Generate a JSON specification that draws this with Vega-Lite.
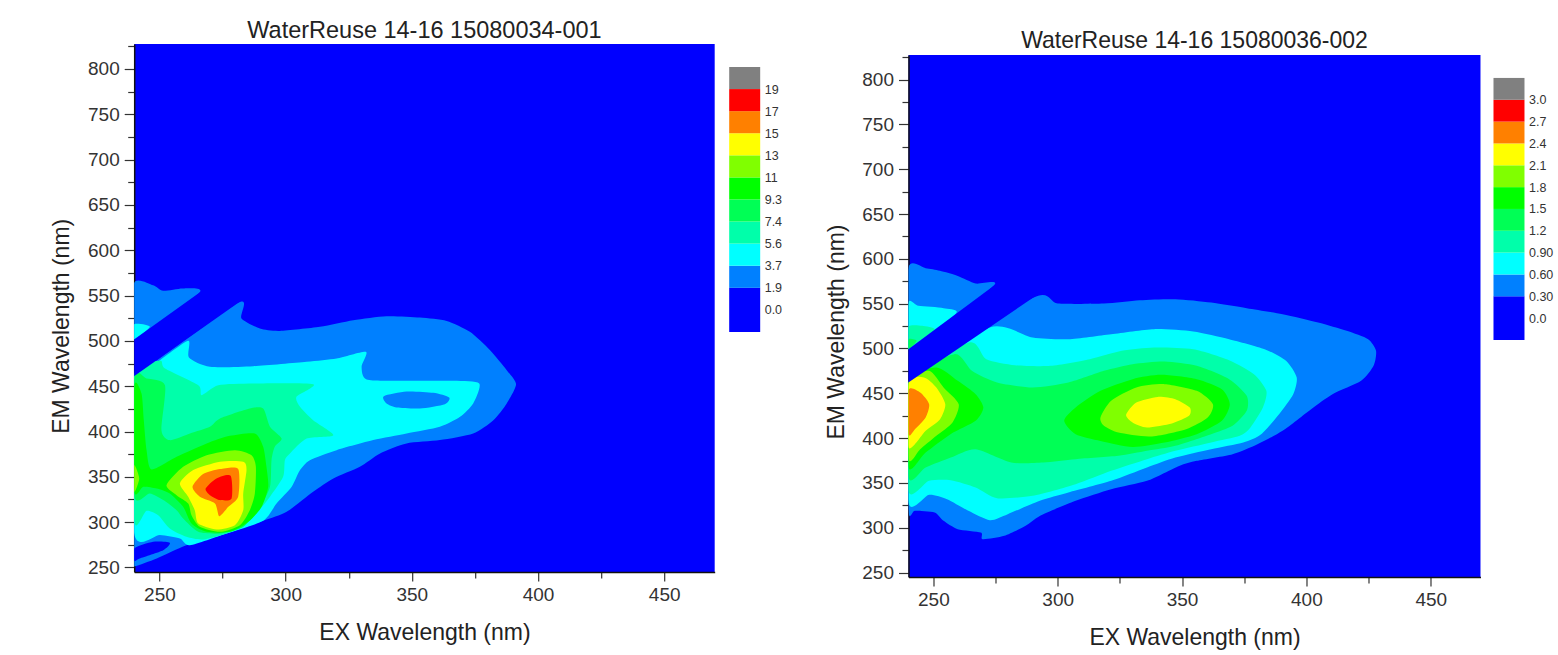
{
"$schema":"https://vega.github.io/schema/vega-lite/v6.json",
"background":"white",
"padding":{"left":50.2,"top":18,"right":5,"bottom":5},
"bounds":"flush",
"spacing":774.3,
"config":{"view":{"stroke":null},"font":"Liberation Sans",
"title":{"font":"Liberation Sans","fontSize":23.5,"fontWeight":"normal","color":"#222222","offset":-5},
"axis":{"grid":false,"labelFont":"Liberation Sans","titleFont":"Liberation Sans","titleFontWeight":"normal","labelColor":"#333333","titleColor":"#222222","labelFontSize":19,"titleFontSize":23,"domainColor":"#111111","domainWidth":1.5,"tickColor":"#333333","tickWidth":1.2,"labelOverlap":false,"labelFlush":false}},
"datasets":{
"bar1":[{"level":0,"lo":0,"hi":2},{"level":1,"lo":2,"hi":3},{"level":2,"lo":3,"hi":4},{"level":3,"lo":4,"hi":5},{"level":4,"lo":5,"hi":6},{"level":5,"lo":6,"hi":7},{"level":6,"lo":7,"hi":8},{"level":7,"lo":8,"hi":9},{"level":8,"lo":9,"hi":10},{"level":9,"lo":10,"hi":11},{"level":10,"lo":11,"hi":12}],
"stripe1":[{"id":"s1","level":0,"i":0,"ex":225,"em":431.5},{"id":"s1","level":0,"i":1,"ex":300,"em":579},{"id":"s1","level":0,"i":2,"ex":300,"em":621.3},{"id":"s1","level":0,"i":3,"ex":225,"em":471.6}],
"stripe2":[{"id":"s2","level":0,"i":0,"ex":225,"em":433.7},{"id":"s2","level":0,"i":1,"ex":310,"em":594.2},{"id":"s2","level":0,"i":2,"ex":310,"em":643.9},{"id":"s2","level":0,"i":3,"ex":225,"em":468.2}],
"left":[
{"id":"a1","level":1,"i":0,"ex":240,"em":564},{"id":"a1","level":1,"i":1,"ex":247.5,"em":561.4},{"id":"a1","level":1,"i":2,"ex":251.5,"em":555.2},{"id":"a1","level":1,"i":3,"ex":259.4,"em":557.8},{"id":"a1","level":1,"i":4,"ex":265.8,"em":553},{"id":"a1","level":1,"i":5,"ex":240,"em":501.5},
{"id":"a2","level":2,"i":0,"ex":240,"em":518.4},{"id":"a2","level":2,"i":1,"ex":246.2,"em":515.5},{"id":"a2","level":2,"i":2,"ex":240,"em":501.5},
{"id":"a3","level":1,"i":0,"ex":240,"em":461},{"id":"a3","level":1,"i":1,"ex":281.2,"em":542},{"id":"a3","level":1,"i":2,"ex":282.5,"em":524.7},{"id":"a3","level":1,"i":3,"ex":289.8,"em":513.6},{"id":"a3","level":1,"i":4,"ex":297.7,"em":511},{"id":"a3","level":1,"i":5,"ex":313.6,"em":515.5},{"id":"a3","level":1,"i":6,"ex":326.8,"em":522.8},{"id":"a3","level":1,"i":7,"ex":340,"em":527.2},{"id":"a3","level":1,"i":8,"ex":353.2,"em":525.8},{"id":"a3","level":1,"i":9,"ex":363.8,"em":522},{"id":"a3","level":1,"i":10,"ex":373,"em":510},{"id":"a3","level":1,"i":11,"ex":381,"em":489.7},{"id":"a3","level":1,"i":12,"ex":387.6,"em":467.7},{"id":"a3","level":1,"i":13,"ex":391.3,"em":452},{"id":"a3","level":1,"i":14,"ex":387.6,"em":431},{"id":"a3","level":1,"i":15,"ex":382.3,"em":412.5},{"id":"a3","level":1,"i":16,"ex":374.3,"em":397.8},{"id":"a3","level":1,"i":17,"ex":361.1,"em":390.5},{"id":"a3","level":1,"i":18,"ex":347.9,"em":386.8},{"id":"a3","level":1,"i":19,"ex":337.4,"em":375.8},{"id":"a3","level":1,"i":20,"ex":329.4,"em":361},{"id":"a3","level":1,"i":21,"ex":318.9,"em":348.2},{"id":"a3","level":1,"i":22,"ex":310.9,"em":333.5},{"id":"a3","level":1,"i":23,"ex":300.4,"em":311.4},{"id":"a3","level":1,"i":24,"ex":291.1,"em":301.5},{"id":"a3","level":1,"i":25,"ex":276.6,"em":287.5},{"id":"a3","level":1,"i":26,"ex":260.7,"em":274.6},{"id":"a3","level":1,"i":27,"ex":248.9,"em":260},{"id":"a3","level":1,"i":28,"ex":240,"em":251},{"id":"a3","level":1,"i":29,"ex":235,"em":249},{"id":"a3","level":1,"i":30,"ex":235,"em":461},
{"id":"a4","level":2,"i":0,"ex":240,"em":461},{"id":"a4","level":2,"i":1,"ex":250.2,"em":478.7},{"id":"a4","level":2,"i":2,"ex":261.4,"em":500},{"id":"a4","level":2,"i":3,"ex":261.7,"em":481.7},{"id":"a4","level":2,"i":4,"ex":270,"em":471.4},{"id":"a4","level":2,"i":5,"ex":287.2,"em":472},{"id":"a4","level":2,"i":6,"ex":308.3,"em":476.9},{"id":"a4","level":2,"i":7,"ex":320.2,"em":480.5},{"id":"a4","level":2,"i":8,"ex":331.8,"em":487.9},{"id":"a4","level":2,"i":9,"ex":330.1,"em":471.4},{"id":"a4","level":2,"i":10,"ex":332.1,"em":457.4},{"id":"a4","level":2,"i":11,"ex":346.6,"em":455.9},{"id":"a4","level":2,"i":12,"ex":366.4,"em":455.9},{"id":"a4","level":2,"i":13,"ex":376.7,"em":453},{"id":"a4","level":2,"i":14,"ex":374.3,"em":430.9},{"id":"a4","level":2,"i":15,"ex":369.1,"em":416.2},{"id":"a4","level":2,"i":16,"ex":361.1,"em":405.2},{"id":"a4","level":2,"i":17,"ex":347.9,"em":397.8},{"id":"a4","level":2,"i":18,"ex":334.7,"em":390.5},{"id":"a4","level":2,"i":19,"ex":320.2,"em":379.4},{"id":"a4","level":2,"i":20,"ex":309.6,"em":368.4},{"id":"a4","level":2,"i":21,"ex":305.7,"em":357.4},{"id":"a4","level":2,"i":22,"ex":302.4,"em":339},{"id":"a4","level":2,"i":23,"ex":296.4,"em":320.6},{"id":"a4","level":2,"i":24,"ex":291.1,"em":301.5},{"id":"a4","level":2,"i":25,"ex":276.6,"em":287.5},{"id":"a4","level":2,"i":26,"ex":262.1,"em":274.6},{"id":"a4","level":2,"i":27,"ex":258.1,"em":282},{"id":"a4","level":2,"i":28,"ex":250.2,"em":285.7},{"id":"a4","level":2,"i":29,"ex":240,"em":287.5},
{"id":"a5","level":1,"i":0,"ex":338.9,"em":439},{"id":"a5","level":1,"i":1,"ex":347.9,"em":444.1},{"id":"a5","level":1,"i":2,"ex":358.5,"em":442.7},{"id":"a5","level":1,"i":3,"ex":364.8,"em":437.5},{"id":"a5","level":1,"i":4,"ex":363.1,"em":430.2},{"id":"a5","level":1,"i":5,"ex":353.2,"em":425.4},{"id":"a5","level":1,"i":6,"ex":344,"em":426.5},{"id":"a5","level":1,"i":7,"ex":340,"em":430.9},
{"id":"a6","level":3,"i":0,"ex":240,"em":461},{"id":"a6","level":3,"i":1,"ex":250.2,"em":478},{"id":"a6","level":3,"i":2,"ex":252.2,"em":469.5},{"id":"a6","level":3,"i":3,"ex":265.4,"em":451.1},{"id":"a6","level":3,"i":4,"ex":266.7,"em":440.1},{"id":"a6","level":3,"i":5,"ex":273.3,"em":451.1},{"id":"a6","level":3,"i":6,"ex":287.2,"em":453},{"id":"a6","level":3,"i":7,"ex":310.9,"em":452.2},{"id":"a6","level":3,"i":8,"ex":304.3,"em":438.3},{"id":"a6","level":3,"i":9,"ex":305.7,"em":427.2},{"id":"a6","level":3,"i":10,"ex":310.9,"em":412.5},{"id":"a6","level":3,"i":11,"ex":318.9,"em":396},{"id":"a6","level":3,"i":12,"ex":308.3,"em":392.3},{"id":"a6","level":3,"i":13,"ex":301.7,"em":375.8},{"id":"a6","level":3,"i":14,"ex":299.7,"em":368.4},{"id":"a6","level":3,"i":15,"ex":299,"em":350},{"id":"a6","level":3,"i":16,"ex":293.8,"em":328},{"id":"a6","level":3,"i":17,"ex":288.5,"em":309.6},{"id":"a6","level":3,"i":18,"ex":283.2,"em":294.9},{"id":"a6","level":3,"i":19,"ex":276.6,"em":287.5},{"id":"a6","level":3,"i":20,"ex":267.3,"em":280.9},{"id":"a6","level":3,"i":21,"ex":260.7,"em":283.8},{"id":"a6","level":3,"i":22,"ex":254.1,"em":293},{"id":"a6","level":3,"i":23,"ex":249.5,"em":307.7},{"id":"a6","level":3,"i":24,"ex":244.9,"em":312.5},{"id":"a6","level":3,"i":25,"ex":240,"em":302.2},
{"id":"a7","level":4,"i":0,"ex":240,"em":458.5},{"id":"a7","level":4,"i":1,"ex":244.9,"em":458.5},{"id":"a7","level":4,"i":2,"ex":252.2,"em":451.1},{"id":"a7","level":4,"i":3,"ex":250.8,"em":401.5},{"id":"a7","level":4,"i":4,"ex":254.1,"em":390.5},{"id":"a7","level":4,"i":5,"ex":262.1,"em":397.8},{"id":"a7","level":4,"i":6,"ex":270,"em":405.2},{"id":"a7","level":4,"i":7,"ex":274,"em":414.4},{"id":"a7","level":4,"i":8,"ex":285.8,"em":425.4},{"id":"a7","level":4,"i":9,"ex":291.1,"em":425.4},{"id":"a7","level":4,"i":10,"ex":293.8,"em":405.2},{"id":"a7","level":4,"i":11,"ex":298.4,"em":392.3},{"id":"a7","level":4,"i":12,"ex":295.7,"em":383.1},{"id":"a7","level":4,"i":13,"ex":294.4,"em":368.4},{"id":"a7","level":4,"i":14,"ex":293.8,"em":339},{"id":"a7","level":4,"i":15,"ex":289.8,"em":316.9},{"id":"a7","level":4,"i":16,"ex":283.2,"em":294.9},{"id":"a7","level":4,"i":17,"ex":274,"em":287.5},{"id":"a7","level":4,"i":18,"ex":265.4,"em":289.3},{"id":"a7","level":4,"i":19,"ex":259.4,"em":304},{"id":"a7","level":4,"i":20,"ex":256.8,"em":313.2},{"id":"a7","level":4,"i":21,"ex":251.5,"em":324.3},{"id":"a7","level":4,"i":22,"ex":246.2,"em":331.6},{"id":"a7","level":4,"i":23,"ex":240,"em":329.8},
{"id":"a8","level":5,"i":0,"ex":240,"em":449.3},{"id":"a8","level":5,"i":1,"ex":242.9,"em":441.9},{"id":"a8","level":5,"i":2,"ex":243.8,"em":412.5},{"id":"a8","level":5,"i":3,"ex":244.9,"em":379.4},{"id":"a8","level":5,"i":4,"ex":246.9,"em":358.1},{"id":"a8","level":5,"i":5,"ex":256.8,"em":372.1},{"id":"a8","level":5,"i":6,"ex":268.7,"em":386.8},{"id":"a8","level":5,"i":7,"ex":277.9,"em":395.2},{"id":"a8","level":5,"i":8,"ex":287.8,"em":397.8},{"id":"a8","level":5,"i":9,"ex":291.1,"em":383.1},{"id":"a8","level":5,"i":10,"ex":292.4,"em":361},{"id":"a8","level":5,"i":11,"ex":293.1,"em":339},{"id":"a8","level":5,"i":12,"ex":290.5,"em":316.9},{"id":"a8","level":5,"i":13,"ex":285.2,"em":300.4},{"id":"a8","level":5,"i":14,"ex":277.9,"em":289.3},{"id":"a8","level":5,"i":15,"ex":268.7,"em":289.3},{"id":"a8","level":5,"i":16,"ex":262.7,"em":298.5},{"id":"a8","level":5,"i":17,"ex":259.4,"em":316.9},{"id":"a8","level":5,"i":18,"ex":254.1,"em":331.6},{"id":"a8","level":5,"i":19,"ex":248.9,"em":337.1},{"id":"a8","level":5,"i":20,"ex":243.6,"em":339},{"id":"a8","level":5,"i":21,"ex":240,"em":335.3},
{"id":"a9","level":6,"i":0,"ex":252.8,"em":340.8},{"id":"a9","level":6,"i":1,"ex":259.4,"em":361},{"id":"a9","level":6,"i":2,"ex":268.7,"em":373.9},{"id":"a9","level":6,"i":3,"ex":279.9,"em":379.4},{"id":"a9","level":6,"i":4,"ex":286.5,"em":373.9},{"id":"a9","level":6,"i":5,"ex":288.2,"em":361},{"id":"a9","level":6,"i":6,"ex":287.8,"em":331.6},{"id":"a9","level":6,"i":7,"ex":285.8,"em":313.2},{"id":"a9","level":6,"i":8,"ex":281.9,"em":296.7},{"id":"a9","level":6,"i":9,"ex":274,"em":289.3},{"id":"a9","level":6,"i":10,"ex":266,"em":294.9},{"id":"a9","level":6,"i":11,"ex":262.7,"em":307.7},{"id":"a9","level":6,"i":12,"ex":261.4,"em":320.6},{"id":"a9","level":6,"i":13,"ex":256.8,"em":329.8},
{"id":"a10","level":6,"i":0,"ex":240,"em":362.9},{"id":"a10","level":6,"i":1,"ex":242,"em":348.2},{"id":"a10","level":6,"i":2,"ex":240,"em":333.5},
{"id":"a11","level":7,"i":0,"ex":258.1,"em":342.7},{"id":"a11","level":7,"i":1,"ex":263.4,"em":357.4},{"id":"a11","level":7,"i":2,"ex":274,"em":366.6},{"id":"a11","level":7,"i":3,"ex":283.2,"em":366.6},{"id":"a11","level":7,"i":4,"ex":284.5,"em":357.4},{"id":"a11","level":7,"i":5,"ex":283.2,"em":331.6},{"id":"a11","level":7,"i":6,"ex":283.2,"em":313.2},{"id":"a11","level":7,"i":7,"ex":279.9,"em":296.7},{"id":"a11","level":7,"i":8,"ex":272.6,"em":291.9},{"id":"a11","level":7,"i":9,"ex":265.4,"em":298.5},{"id":"a11","level":7,"i":10,"ex":264,"em":313.2},{"id":"a11","level":7,"i":11,"ex":261.4,"em":328},
{"id":"a12","level":8,"i":0,"ex":263.1,"em":339},{"id":"a12","level":8,"i":1,"ex":267.3,"em":353},{"id":"a12","level":8,"i":2,"ex":274,"em":358.5},{"id":"a12","level":8,"i":3,"ex":281.2,"em":358.5},{"id":"a12","level":8,"i":4,"ex":281.2,"em":328},{"id":"a12","level":8,"i":5,"ex":277.3,"em":316.9},{"id":"a12","level":8,"i":6,"ex":273.7,"em":306.6},{"id":"a12","level":8,"i":7,"ex":272,"em":320.6},{"id":"a12","level":8,"i":8,"ex":266,"em":328},
{"id":"a13","level":9,"i":0,"ex":268.3,"em":337.1},{"id":"a13","level":9,"i":1,"ex":272.6,"em":348.2},{"id":"a13","level":9,"i":2,"ex":278.2,"em":351.1},{"id":"a13","level":9,"i":3,"ex":278.6,"em":326.1},{"id":"a13","level":9,"i":4,"ex":274,"em":324.3},{"id":"a13","level":9,"i":5,"ex":270,"em":329.8},
{"id":"a14","level":0,"i":0,"ex":240,"em":271},{"id":"a14","level":0,"i":1,"ex":247.5,"em":278.3},{"id":"a14","level":0,"i":2,"ex":254.1,"em":277.2},{"id":"a14","level":0,"i":3,"ex":251.5,"em":269.1},{"id":"a14","level":0,"i":4,"ex":242.2,"em":260},{"id":"a14","level":0,"i":5,"ex":240,"em":257.4}
],
"bar2":[{"level":0,"lo":0,"hi":2},{"level":1,"lo":2,"hi":3},{"level":2,"lo":3,"hi":4},{"level":3,"lo":4,"hi":5},{"level":4,"lo":5,"hi":6},{"level":5,"lo":6,"hi":7},{"level":6,"lo":7,"hi":8},{"level":7,"lo":8,"hi":9},{"level":8,"lo":9,"hi":10},{"level":9,"lo":10,"hi":11},{"level":10,"lo":11,"hi":12}],
"right":[
{"id":"b1","level":1,"i":0,"ex":240,"em":590.4},{"id":"b1","level":1,"i":1,"ex":246.9,"em":589.6},{"id":"b1","level":1,"i":2,"ex":252.6,"em":586.7},{"id":"b1","level":1,"i":3,"ex":259.8,"em":581},{"id":"b1","level":1,"i":4,"ex":267,"em":572.5},{"id":"b1","level":1,"i":5,"ex":274.2,"em":569.9},{"id":"b1","level":1,"i":6,"ex":240,"em":499.2},
{"id":"b2","level":2,"i":0,"ex":240,"em":551.3},{"id":"b2","level":2,"i":1,"ex":244,"em":547.6},{"id":"b2","level":2,"i":2,"ex":254.1,"em":545},{"id":"b2","level":2,"i":3,"ex":259.1,"em":539},{"id":"b2","level":2,"i":4,"ex":240,"em":499.2},
{"id":"b3","level":3,"i":0,"ex":240,"em":524.2},{"id":"b3","level":3,"i":1,"ex":245.5,"em":525.3},{"id":"b3","level":3,"i":2,"ex":250.5,"em":520.4},{"id":"b3","level":3,"i":3,"ex":240,"em":499.2},
{"id":"b4","level":4,"i":0,"ex":240,"em":510.4},{"id":"b4","level":4,"i":1,"ex":243.3,"em":508.5},{"id":"b4","level":4,"i":2,"ex":240,"em":499.2},
{"id":"b5","level":1,"i":0,"ex":240,"em":462},{"id":"b5","level":1,"i":1,"ex":289.9,"em":556.2},{"id":"b5","level":1,"i":2,"ex":300,"em":550.2},{"id":"b5","level":1,"i":3,"ex":318.6,"em":550.2},{"id":"b5","level":1,"i":4,"ex":333,"em":553.9},{"id":"b5","level":1,"i":5,"ex":347.3,"em":555},{"id":"b5","level":1,"i":6,"ex":361.7,"em":551.3},{"id":"b5","level":1,"i":7,"ex":376,"em":545},{"id":"b5","level":1,"i":8,"ex":390.4,"em":538.3},{"id":"b5","level":1,"i":9,"ex":404.7,"em":529},{"id":"b5","level":1,"i":10,"ex":416.2,"em":519.7},{"id":"b5","level":1,"i":11,"ex":424.8,"em":510.4},{"id":"b5","level":1,"i":12,"ex":428,"em":497.4},{"id":"b5","level":1,"i":13,"ex":427,"em":480.6},{"id":"b5","level":1,"i":14,"ex":422,"em":463.9},{"id":"b5","level":1,"i":15,"ex":410.5,"em":449},{"id":"b5","level":1,"i":16,"ex":401.9,"em":432.3},{"id":"b5","level":1,"i":17,"ex":390.4,"em":408.1},{"id":"b5","level":1,"i":18,"ex":380.3,"em":393.2},{"id":"b5","level":1,"i":19,"ex":370.3,"em":382.1},{"id":"b5","level":1,"i":20,"ex":355.9,"em":374.6},{"id":"b5","level":1,"i":21,"ex":348.8,"em":369},{"id":"b5","level":1,"i":22,"ex":335.9,"em":352.3},{"id":"b5","level":1,"i":23,"ex":321.5,"em":343},{"id":"b5","level":1,"i":24,"ex":307.2,"em":330},{"id":"b5","level":1,"i":25,"ex":292.8,"em":313.2},{"id":"b5","level":1,"i":26,"ex":287.1,"em":302.1},{"id":"b5","level":1,"i":27,"ex":278.5,"em":290.9},{"id":"b5","level":1,"i":28,"ex":269.8,"em":287.2},{"id":"b5","level":1,"i":29,"ex":269.1,"em":294.6},{"id":"b5","level":1,"i":30,"ex":259.8,"em":298.4},{"id":"b5","level":1,"i":31,"ex":254.1,"em":307.7},{"id":"b5","level":1,"i":32,"ex":250.5,"em":317},{"id":"b5","level":1,"i":33,"ex":242.6,"em":318.8},{"id":"b5","level":1,"i":34,"ex":240,"em":320.7},
{"id":"b6","level":2,"i":0,"ex":272.7,"em":523.4},{"id":"b6","level":2,"i":1,"ex":289.9,"em":512.3},{"id":"b6","level":2,"i":2,"ex":304.3,"em":510.4},{"id":"b6","level":2,"i":3,"ex":321.5,"em":516},{"id":"b6","level":2,"i":4,"ex":338.7,"em":521.6},{"id":"b6","level":2,"i":5,"ex":354.5,"em":519},{"id":"b6","level":2,"i":6,"ex":368.9,"em":510.4},{"id":"b6","level":2,"i":7,"ex":383.2,"em":499.2},{"id":"b6","level":2,"i":8,"ex":391.8,"em":486.2},{"id":"b6","level":2,"i":9,"ex":396.1,"em":467.6},{"id":"b6","level":2,"i":10,"ex":394.7,"em":449},{"id":"b6","level":2,"i":11,"ex":389,"em":426.7},{"id":"b6","level":2,"i":12,"ex":381.8,"em":404.4},{"id":"b6","level":2,"i":13,"ex":374.6,"em":395.1},{"id":"b6","level":2,"i":14,"ex":361.7,"em":387.6},{"id":"b6","level":2,"i":15,"ex":347.3,"em":378.3},{"id":"b6","level":2,"i":16,"ex":335.9,"em":367.2},{"id":"b6","level":2,"i":17,"ex":321.5,"em":352.3},{"id":"b6","level":2,"i":18,"ex":304.3,"em":339.3},{"id":"b6","level":2,"i":19,"ex":292.8,"em":330},{"id":"b6","level":2,"i":20,"ex":279.9,"em":315.1},{"id":"b6","level":2,"i":21,"ex":272.7,"em":308.4},{"id":"b6","level":2,"i":22,"ex":264.1,"em":318.8},{"id":"b6","level":2,"i":23,"ex":255.5,"em":331.8},{"id":"b6","level":2,"i":24,"ex":248.3,"em":336.7},{"id":"b6","level":2,"i":25,"ex":240,"em":328.1},{"id":"b6","level":2,"i":26,"ex":240,"em":462},
{"id":"b7","level":3,"i":0,"ex":264.4,"em":506.7},{"id":"b7","level":3,"i":1,"ex":271.3,"em":488.1},{"id":"b7","level":3,"i":2,"ex":282.8,"em":481.4},{"id":"b7","level":3,"i":3,"ex":297.1,"em":480.6},{"id":"b7","level":3,"i":4,"ex":312.9,"em":488.1},{"id":"b7","level":3,"i":5,"ex":325.8,"em":497.4},{"id":"b7","level":3,"i":6,"ex":338.7,"em":501.1},{"id":"b7","level":3,"i":7,"ex":354.5,"em":499.2},{"id":"b7","level":3,"i":8,"ex":368.9,"em":487},{"id":"b7","level":3,"i":9,"ex":378.9,"em":471.3},{"id":"b7","level":3,"i":10,"ex":383.9,"em":452.7},{"id":"b7","level":3,"i":11,"ex":382.5,"em":434.1},{"id":"b7","level":3,"i":12,"ex":377.5,"em":411.8},{"id":"b7","level":3,"i":13,"ex":373.2,"em":402.5},{"id":"b7","level":3,"i":14,"ex":361.7,"em":395.1},{"id":"b7","level":3,"i":15,"ex":347.3,"em":385.8},{"id":"b7","level":3,"i":16,"ex":335.9,"em":376.5},{"id":"b7","level":3,"i":17,"ex":321.5,"em":363.5},{"id":"b7","level":3,"i":18,"ex":307.2,"em":348.6},{"id":"b7","level":3,"i":19,"ex":289.9,"em":335.6},{"id":"b7","level":3,"i":20,"ex":275.6,"em":333},{"id":"b7","level":3,"i":21,"ex":267,"em":344.9},{"id":"b7","level":3,"i":22,"ex":257,"em":353},{"id":"b7","level":3,"i":23,"ex":248.3,"em":352.3},{"id":"b7","level":3,"i":24,"ex":240,"em":341.1},{"id":"b7","level":3,"i":25,"ex":240,"em":462},
{"id":"b8","level":4,"i":0,"ex":258.4,"em":493.7},{"id":"b8","level":4,"i":1,"ex":265.5,"em":475.1},{"id":"b8","level":4,"i":2,"ex":275.6,"em":462},{"id":"b8","level":4,"i":3,"ex":289.9,"em":456.5},{"id":"b8","level":4,"i":4,"ex":304.3,"em":462},{"id":"b8","level":4,"i":5,"ex":318.6,"em":475.1},{"id":"b8","level":4,"i":6,"ex":330.1,"em":482.5},{"id":"b8","level":4,"i":7,"ex":343,"em":485.5},{"id":"b8","level":4,"i":8,"ex":355.9,"em":480.6},{"id":"b8","level":4,"i":9,"ex":368.9,"em":465.8},{"id":"b8","level":4,"i":10,"ex":376,"em":447.2},{"id":"b8","level":4,"i":11,"ex":376,"em":430.4},{"id":"b8","level":4,"i":12,"ex":370.3,"em":413.7},{"id":"b8","level":4,"i":13,"ex":361.7,"em":404.4},{"id":"b8","level":4,"i":14,"ex":347.3,"em":391.4},{"id":"b8","level":4,"i":15,"ex":335.9,"em":385.8},{"id":"b8","level":4,"i":16,"ex":324.4,"em":380.2},{"id":"b8","level":4,"i":17,"ex":307.2,"em":376.5},{"id":"b8","level":4,"i":18,"ex":294.2,"em":372.8},{"id":"b8","level":4,"i":19,"ex":281.3,"em":372.8},{"id":"b8","level":4,"i":20,"ex":267,"em":387.6},{"id":"b8","level":4,"i":21,"ex":257,"em":378.3},{"id":"b8","level":4,"i":22,"ex":246.9,"em":367.2},{"id":"b8","level":4,"i":23,"ex":240,"em":356},{"id":"b8","level":4,"i":24,"ex":240,"em":462},
{"id":"b9","level":5,"i":0,"ex":302.6,"em":419.3},{"id":"b9","level":5,"i":1,"ex":307.2,"em":434.1},{"id":"b9","level":5,"i":2,"ex":317.2,"em":452.7},{"id":"b9","level":5,"i":3,"ex":330.1,"em":465.8},{"id":"b9","level":5,"i":4,"ex":341.6,"em":470.6},{"id":"b9","level":5,"i":5,"ex":355.9,"em":465.8},{"id":"b9","level":5,"i":6,"ex":366,"em":454.6},{"id":"b9","level":5,"i":7,"ex":369.2,"em":437.9},{"id":"b9","level":5,"i":8,"ex":366,"em":419.3},{"id":"b9","level":5,"i":9,"ex":355.9,"em":404.4},{"id":"b9","level":5,"i":10,"ex":343,"em":395.1},{"id":"b9","level":5,"i":11,"ex":330.1,"em":390.2},{"id":"b9","level":5,"i":12,"ex":317.2,"em":396.9},{"id":"b9","level":5,"i":13,"ex":307.2,"em":404.4},
{"id":"b10","level":6,"i":0,"ex":317.2,"em":423},{"id":"b10","level":6,"i":1,"ex":321.5,"em":441.6},{"id":"b10","level":6,"i":2,"ex":331.6,"em":456.5},{"id":"b10","level":6,"i":3,"ex":343,"em":460.2},{"id":"b10","level":6,"i":4,"ex":355.9,"em":452.7},{"id":"b10","level":6,"i":5,"ex":362.4,"em":437.9},{"id":"b10","level":6,"i":6,"ex":360.3,"em":423},{"id":"b10","level":6,"i":7,"ex":351.6,"em":410},{"id":"b10","level":6,"i":8,"ex":337.3,"em":401.8},{"id":"b10","level":6,"i":9,"ex":324.4,"em":406.2},{"id":"b10","level":6,"i":10,"ex":318.6,"em":413.7},
{"id":"b11","level":7,"i":0,"ex":327.5,"em":426},{"id":"b11","level":7,"i":1,"ex":331.6,"em":439.7},{"id":"b11","level":7,"i":2,"ex":340.2,"em":446},{"id":"b11","level":7,"i":3,"ex":347.3,"em":443.4},{"id":"b11","level":7,"i":4,"ex":353.1,"em":434.1},{"id":"b11","level":7,"i":5,"ex":352.8,"em":424.8},{"id":"b11","level":7,"i":6,"ex":345.9,"em":416.3},{"id":"b11","level":7,"i":7,"ex":335.9,"em":411.8},{"id":"b11","level":7,"i":8,"ex":330.1,"em":417.4},
{"id":"b12","level":5,"i":0,"ex":251.2,"em":478.8},{"id":"b12","level":5,"i":1,"ex":259.8,"em":463.9},{"id":"b12","level":5,"i":2,"ex":267,"em":449},{"id":"b12","level":5,"i":3,"ex":270.1,"em":434.1},{"id":"b12","level":5,"i":4,"ex":267,"em":419.3},{"id":"b12","level":5,"i":5,"ex":256.9,"em":404.4},{"id":"b12","level":5,"i":6,"ex":246.9,"em":383.9},{"id":"b12","level":5,"i":7,"ex":240,"em":367.2},{"id":"b12","level":5,"i":8,"ex":240,"em":462},
{"id":"b13","level":6,"i":0,"ex":248.3,"em":475.1},{"id":"b13","level":6,"i":1,"ex":254.1,"em":456.5},{"id":"b13","level":6,"i":2,"ex":260.2,"em":437.9},{"id":"b13","level":6,"i":3,"ex":257.7,"em":417.4},{"id":"b13","level":6,"i":4,"ex":251.2,"em":402.5},{"id":"b13","level":6,"i":5,"ex":244.7,"em":387.6},{"id":"b13","level":6,"i":6,"ex":240,"em":376.5},{"id":"b13","level":6,"i":7,"ex":240,"em":462},
{"id":"b14","level":7,"i":0,"ex":246.2,"em":467.6},{"id":"b14","level":7,"i":1,"ex":251.2,"em":456.5},{"id":"b14","level":7,"i":2,"ex":254.8,"em":437.9},{"id":"b14","level":7,"i":3,"ex":252.7,"em":421.1},{"id":"b14","level":7,"i":4,"ex":246.9,"em":408.1},{"id":"b14","level":7,"i":5,"ex":240,"em":389.5},{"id":"b14","level":7,"i":6,"ex":240,"em":462},
{"id":"b15","level":8,"i":0,"ex":240,"em":453.5},{"id":"b15","level":8,"i":1,"ex":244.7,"em":450.9},{"id":"b15","level":8,"i":2,"ex":248.3,"em":437.9},{"id":"b15","level":8,"i":3,"ex":246.9,"em":423},{"id":"b15","level":8,"i":4,"ex":242.6,"em":410},{"id":"b15","level":8,"i":5,"ex":240,"em":404.4}
]
},
"hconcat":[
{"hconcat":[
{"width":580.5,"height":528,"view":{"fill":"#0000ff"},"title":"WaterReuse 14-16 15080034-001","data":{"name":"left"},
"encoding":{
"x":{"field":"ex","type":"quantitative","scale":{"domain":[240,470],"nice":false,"zero":false},"axis":{"title":"EX Wavelength (nm)","values":[250,275,300,325,350,375,400,425,450],"labelExpr":"datum.value % 50 === 0 ? datum.label : ''","tickSize":{"condition":{"test":"datum.value % 50 === 0","value":9},"value":6},"titlePadding":17,"labelPadding":5}},
"y":{"field":"em","type":"quantitative","scale":{"domain":[245,827.5],"nice":false,"zero":false},"axis":{"title":"EM Wavelength (nm)","titleY":281.8,"values":[250,275,300,325,350,375,400,425,450,475,500,525,550,575,600,625,650,675,700,725,750,775,800,825],"labelExpr":"datum.value % 50 === 0 ? datum.label : ''","tickSize":{"condition":{"test":"datum.value % 50 === 0","value":10},"value":6.5},"titlePadding":13.5,"labelPadding":5}},
"color":{"field":"level","type":"nominal","legend":null,"scale":{"domain":[0,1,2,3,4,5,6,7,8,9,10],"range":["#0000ff","#0080ff","#00ffff","#00ffaa","#00ff55","#00ff00","#80ff00","#ffff00","#ff8000","#ff0000","#808080"]}},
"detail":{"field":"id"},
"order":{"field":"i","type":"quantitative"}},
"layer":[
{"mark":{"type":"line","filled":true,"strokeWidth":0,"clip":true,"interpolate":"cardinal-closed","tension":0.3}},
{"data":{"name":"stripe1"},"mark":{"type":"line","filled":true,"strokeWidth":0,"clip":true,"interpolate":"linear-closed"}}
]},
{"width":31,"height":288,"data":{"name":"bar1"},"mark":{"type":"rect"},
"encoding":{
"y":{"field":"lo","type":"quantitative","scale":{"domain":[0,13.04],"nice":false,"zero":false},"axis":{"orient":"right","title":null,"domain":false,"ticks":false,"values":[1,2,3,4,5,6,7,8,9,10,11],"labelExpr":"['0.0','1.9','3.7','5.6','7.4','9.3','11','13','15','17','19'][datum.value-1]","labelFontSize":12.5,"labelPadding":4}},
"y2":{"field":"hi"},
"color":{"field":"level","type":"nominal","legend":null,"scale":{"domain":[0,1,2,3,4,5,6,7,8,9,10],"range":["#0000ff","#0080ff","#00ffff","#00ffaa","#00ff55","#00ff00","#80ff00","#ffff00","#ff8000","#ff0000","#808080"]}}}}
],"spacing":14,"bounds":"flush","resolve":{"scale":{"color":"independent"}}},
{"vconcat":[
{"width":1,"height":11,"data":{"values":[{"a":1}]},"mark":{"type":"rect","opacity":0},"encoding":{}},
{"hconcat":[
{"width":572,"height":522,"view":{"fill":"#0000ff"},"title":{"text":"WaterReuse 14-16 15080036-002","fontSize":23},"data":{"name":"right"},
"encoding":{
"x":{"field":"ex","type":"quantitative","scale":{"domain":[240,470],"nice":false,"zero":false},"axis":{"title":"EX Wavelength (nm)","values":[250,275,300,325,350,375,400,425,450],"labelExpr":"datum.value % 50 === 0 ? datum.label : ''","tickSize":{"condition":{"test":"datum.value % 50 === 0","value":9},"value":6},"titlePadding":16.7,"labelPadding":5}},
"y":{"field":"em","type":"quantitative","scale":{"domain":[245,827.5],"nice":false,"zero":false},"axis":{"title":"EM Wavelength (nm)","titleY":276.5,"values":[250,275,300,325,350,375,400,425,450,475,500,525,550,575,600,625,650,675,700,725,750,775,800,825],"labelExpr":"datum.value % 50 === 0 ? datum.label : ''","tickSize":{"condition":{"test":"datum.value % 50 === 0","value":10},"value":6.5},"titlePadding":13.5,"labelPadding":5}},
"color":{"field":"level","type":"nominal","legend":null,"scale":{"domain":[0,1,2,3,4,5,6,7,8,9,10],"range":["#0000ff","#0080ff","#00ffff","#00ffaa","#00ff55","#00ff00","#80ff00","#ffff00","#ff8000","#ff0000","#808080"]}},
"detail":{"field":"id"},
"order":{"field":"i","type":"quantitative"}},
"layer":[
{"mark":{"type":"line","filled":true,"strokeWidth":0,"clip":true,"interpolate":"cardinal-closed","tension":0.3}},
{"data":{"name":"stripe2"},"mark":{"type":"line","filled":true,"strokeWidth":0,"clip":true,"interpolate":"linear-closed"}}
]},
{"width":31,"height":285,"data":{"name":"bar2"},"mark":{"type":"rect"},
"encoding":{
"y":{"field":"lo","type":"quantitative","scale":{"domain":[0,13.05],"nice":false,"zero":false},"axis":{"orient":"right","title":null,"domain":false,"ticks":false,"values":[1,2,3,4,5,6,7,8,9,10,11],"labelExpr":"['0.0','0.30','0.60','0.90','1.2','1.5','1.8','2.1','2.4','2.7','3.0'][datum.value-1]","labelFontSize":12.5,"labelPadding":4}},
"y2":{"field":"hi"},
"color":{"field":"level","type":"nominal","legend":null,"scale":{"domain":[0,1,2,3,4,5,6,7,8,9,10],"range":["#0000ff","#0080ff","#00ffff","#00ffaa","#00ff55","#00ff00","#80ff00","#ffff00","#ff8000","#ff0000","#808080"]}}}}
],"spacing":13,"bounds":"flush","resolve":{"scale":{"color":"independent"}}}
],"spacing":0,"bounds":"flush"}
]
}
